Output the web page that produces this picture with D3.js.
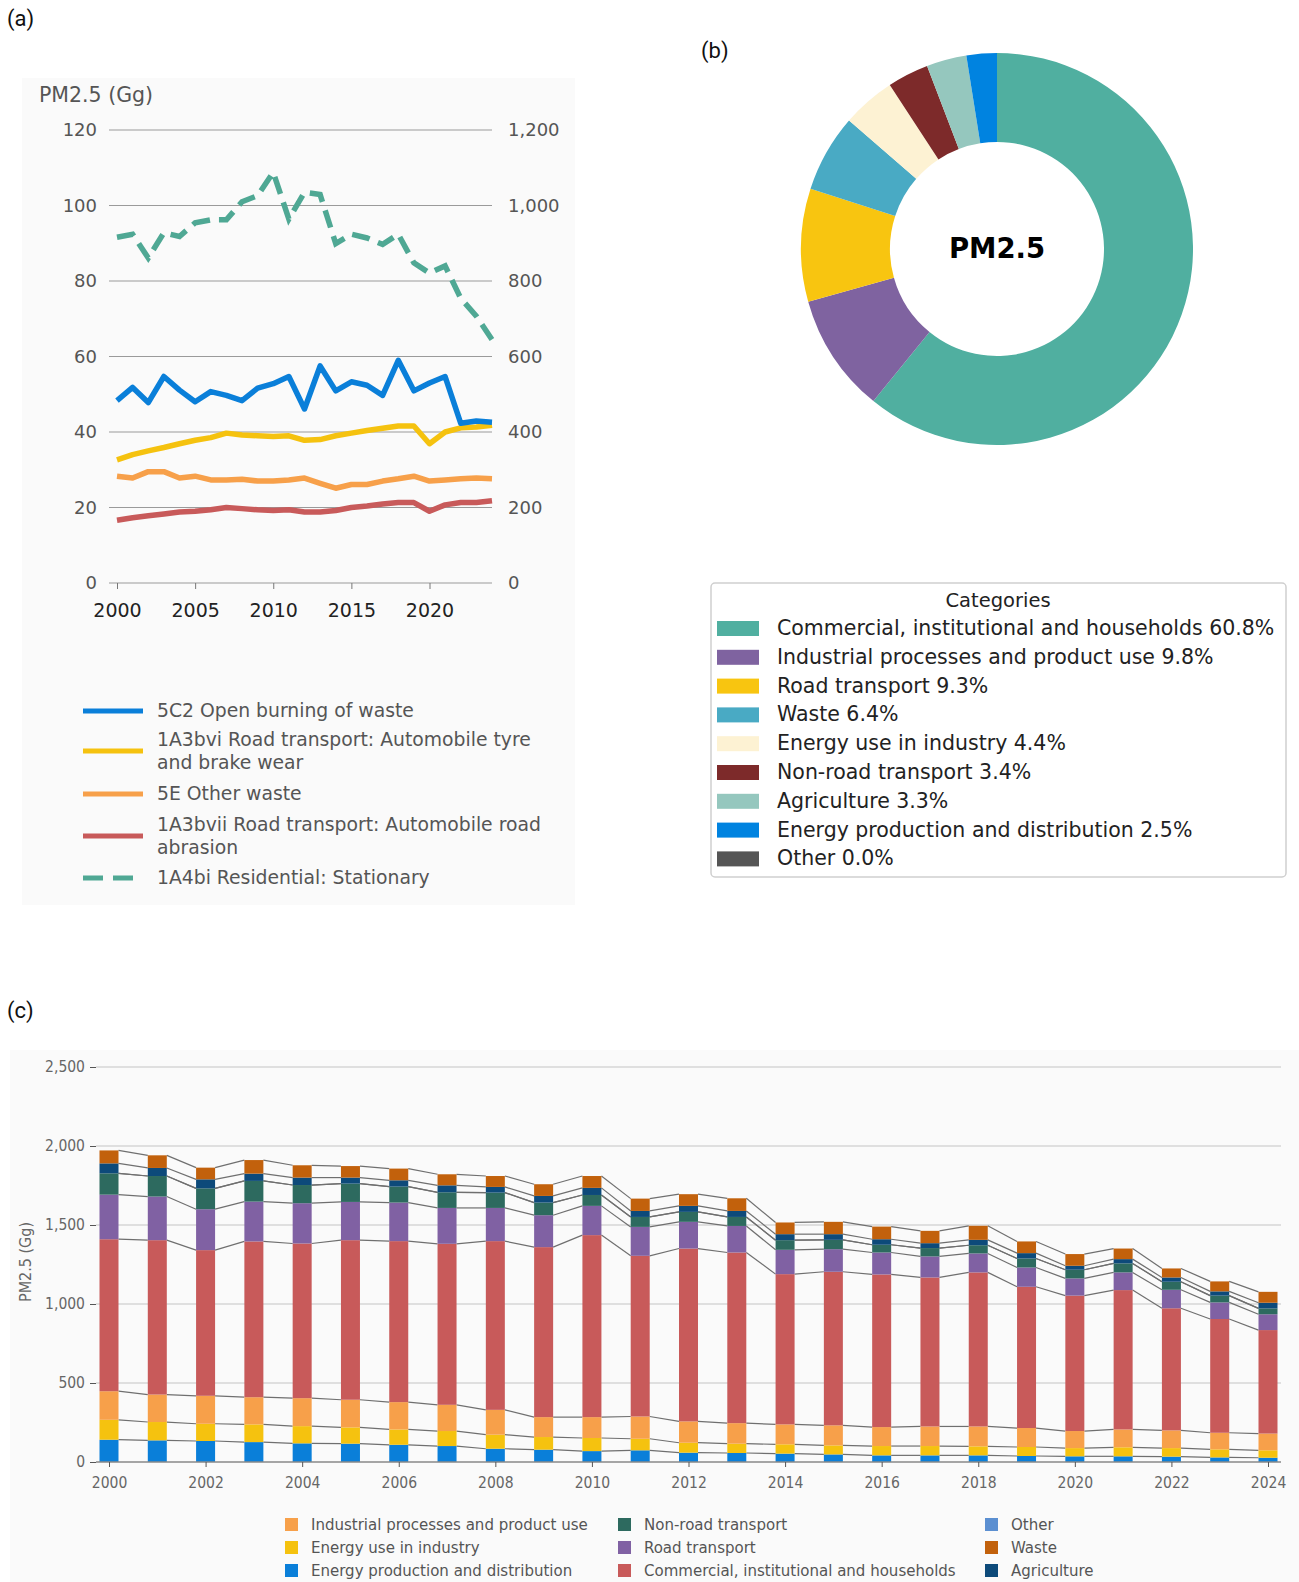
<!DOCTYPE html>
<html>
<head>
<meta charset="utf-8">
<script src="https://cdn.jsdelivr.net/npm/d3@7"></script>
<style>
  body { margin: 0; background: #fff; }
  svg { display: block; }
  .lbl { font-family: Roboto, "Liberation Sans", sans-serif; font-size: 22px; fill: #111; }
  .pa text { font-family: "DejaVu Sans", sans-serif; }
  .pc text { font-family: "DejaVu Sans Condensed", "DejaVu Sans", sans-serif; font-stretch: condensed; }
</style>
</head>
<body>
<svg id="chart" width="1299" height="1582"></svg>
<script>
// ---- data ----
const years = [2000,2001,2002,2003,2004,2005,2006,2007,2008,2009,2010,2011,2012,
  2013,2014,2015,2016,2017,2018,2019,2020,2021,2022,2023,2024];

// panel (a) key categories, Gg (left axis) / residential on right axis
const openBurning = [48.3,51.8,47.8,54.7,51.1,48.0,50.7,49.7,48.3,51.6,52.8,54.7,46.1,57.5,50.9,53.3,52.4,49.7,59.0,50.9,53.0,54.7,42.3,42.9,42.6];
const tyreBrake = [32.6,34.0,35.0,35.9,36.9,37.8,38.5,39.7,39.2,39.0,38.8,39.0,37.8,38.0,39.0,39.7,40.4,41.0,41.6,41.6,36.9,40.0,41.1,41.3,41.8];
const otherWaste = [28.3,27.8,29.5,29.5,27.8,28.3,27.3,27.3,27.5,27.0,27.0,27.3,27.8,26.4,25.1,26.1,26.1,27.0,27.6,28.3,27.0,27.3,27.6,27.8,27.6];
const roadAbrasion = [16.6,17.3,17.8,18.3,18.8,19.0,19.4,20.0,19.7,19.4,19.2,19.4,18.8,18.8,19.2,20.0,20.4,20.9,21.3,21.3,19.0,20.7,21.3,21.3,21.8];
const residential = [916,924,861,928,918,954,962,962,1010,1026,1088,964,1035,1029,899,924,914,897,924,848,821,840,754,707,645];

const lineNames = ["5C2 Open burning of waste",
  "1A3bvi Road transport: Automobile tyre|and brake wear",
  "5E Other waste",
  "1A3bvii Road transport: Automobile road|abrasion",
  "1A4bi Residential: Stationary"];
const lineColors = ["#0a7fd9", "#f5c20f", "#f7a04a", "#c85a5a", "#4fa894"];

// panel (b) shares of 2024
const pieNames = ["Commercial, institutional and households", "Industrial processes and product use",
  "Road transport", "Waste", "Energy use in industry", "Non-road transport", "Agriculture",
  "Energy production and distribution", "Other"];
const pieShares = [60.8, 9.8, 9.3, 6.4, 4.4, 3.4, 3.3, 2.5, 0.0];
const pieColors = ["#50afa0", "#7f63a0", "#f8c510", "#49aac4", "#fdf2d3", "#7d2a2a", "#95c7be", "#0083e0", "#555555"];

// panel (c) stacked by sector, Gg
const energyProd = [141,137,133,126,118,116,109,101,84,78,69,74,59,57,53,48,42,42,42,38,36,36,34,29,27];
const energyInd = [126,116,109,112,109,103,97,95,89,80,83,73,63,59,59,57,59,59,57,57,52,57,54,51,47];
const industrial = [181,174,177,172,177,175,173,166,157,126,132,141,135,130,126,127,120,124,126,120,108,113,112,105,106];
const commercial = [962,977,922,986,979,1010,1019,1019,1068,1076,1152,1017,1094,1080,951,972,966,943,975,894,857,882,773,720,655];
const roadTr = [282,276,259,252,255,242,244,227,210,202,185,183,169,168,154,143,139,133,120,122,109,112,117,105,100];
const nonRoad = [135,130,132,131,115,116,101,99,97,80,69,63,63,57,61,59,49,53,52,57,55,57,51,43,37];
const otherSec = [0,0,0,0,0,0,0,0,0,0,0,0,0,0,0,0,0,0,0,0,0,0,0,0,0];
const agriculture = [63,51,57,46,47,38,40,44,36,42,45,38,38,38,38,36,35,31,34,34,25,27,27,27,36];
const waste = [82,80,74,86,78,73,74,70,69,74,75,78,74,80,74,78,80,78,89,74,74,67,57,63,69];

const stackKeys = ["Energy production and distribution", "Energy use in industry",
  "Industrial processes and product use", "Commercial, institutional and households",
  "Road transport", "Non-road transport", "Other", "Agriculture", "Waste"];
const stackSeries = [energyProd, energyInd, industrial, commercial, roadTr, nonRoad, otherSec, agriculture, waste];
const stackColors = ["#0a7fd9", "#f5c20f", "#f7a04a", "#c85a5a", "#8061a3", "#2d6a5f", "#5b8fd1", "#0d4a7a", "#c2610c"];
const legendOrder = [
  ["Industrial processes and product use", "Energy use in industry", "Energy production and distribution"],
  ["Non-road transport", "Road transport", "Commercial, institutional and households"],
  ["Other", "Waste", "Agriculture"]];

const svg = d3.select("#chart");

// panel letters
svg.append("text").attr("class", "lbl").attr("x", 7).attr("y", 26).text("(a)");
svg.append("text").attr("class", "lbl").attr("x", 701).attr("y", 58).text("(b)");
svg.append("text").attr("class", "lbl").attr("x", 7).attr("y", 1018).text("(c)");

// ---------- panel (a) ----------
const pa = svg.append("g").attr("class", "pa");
pa.append("rect").attr("x", 22).attr("y", 78).attr("width", 553).attr("height", 827).attr("fill", "#fafafa");

const xa = d3.scaleLinear().domain([2000, 2024]).range([117, 492]);
const ya = d3.scaleLinear().domain([0, 120]).range([583, 130]);
const ya2 = d3.scaleLinear().domain([0, 1200]).range([583, 130]);

pa.append("text").attr("x", 39).attr("y", 102).attr("font-size", 20.5).attr("fill", "#555").text("PM2.5 (Gg)");

const leftAx = pa.append("g").attr("transform", "translate(109,0)")
  .call(d3.axisLeft(ya).tickValues([0,20,40,60,80,100,120]).tickSize(0).tickPadding(12));
leftAx.select(".domain").remove();
leftAx.selectAll("text").attr("font-size", 18).attr("fill", "#555");

const rightAx = pa.append("g").attr("transform", "translate(492,0)")
  .call(d3.axisRight(ya2).tickValues([0,200,400,600,800,1000,1200]).tickFormat(d3.format(",")).tickSize(0).tickPadding(16));
rightAx.select(".domain").remove();
rightAx.selectAll("text").attr("font-size", 18).attr("fill", "#555");

pa.append("g").selectAll("line").data([20,40,60,80,100,120]).join("line")
  .attr("x1", 109).attr("x2", 492).attr("y1", d => ya(d)).attr("y2", d => ya(d))
  .attr("stroke", "#9a9a9a").attr("stroke-width", 1);

const botAx = pa.append("g").attr("transform", "translate(0,583)")
  .call(d3.axisBottom(xa).tickValues([2000,2005,2010,2015,2020]).tickFormat(d3.format("d")).tickSize(6).tickPadding(15));
botAx.select(".domain").attr("d", "M109,0H492").attr("stroke", "#9a9a9a");
botAx.selectAll(".tick line").attr("stroke", "#777");
botAx.selectAll("text").attr("font-size", 19).attr("fill", "#222");

const lineA = d3.line().x((d, i) => xa(years[i])).y(d => ya(d));
const lineA2 = d3.line().x((d, i) => xa(years[i])).y(d => ya2(d));
const leftSeries = [openBurning, tyreBrake, otherWaste, roadAbrasion];
pa.append("g").selectAll("path").data(leftSeries.slice().reverse()).join("path")
  .attr("d", lineA).attr("fill", "none")
  .attr("stroke", (d, i) => lineColors[3 - i]).attr("stroke-width", 5.5)
  .attr("stroke-linejoin", "round");
pa.append("path").attr("d", lineA2(residential)).attr("fill", "none")
  .attr("stroke", lineColors[4]).attr("stroke-width", 5.5).attr("stroke-dasharray", "18,9");

// legend (a)
const legA = pa.append("g");
const legAy = [711, 751, 794, 836, 878];
lineNames.forEach((name, i) => {
  const parts = name.split("|");
  legA.append("line").attr("x1", 83).attr("x2", 143).attr("y1", legAy[i]).attr("y2", legAy[i])
    .attr("stroke", lineColors[i]).attr("stroke-width", 5)
    .attr("stroke-dasharray", i === 4 ? "20,10" : null);
  const t = legA.append("text").attr("x", 157).attr("font-size", 18.8).attr("fill", "#555");
  parts.forEach((p, j) => {
    t.append("tspan").attr("x", 157)
      .attr("y", legAy[i] + 6 + (parts.length > 1 ? (j - 0.5) * 23 : 0)).text(p);
  });
});

// ---------- panel (b) ----------
const pb = svg.append("g").attr("class", "pa");
const pie = d3.pie().sort(null).value(d => d);
const arc = d3.arc().innerRadius(107).outerRadius(196);
pb.append("g").attr("transform", "translate(997,249)")
  .selectAll("path").data(pie(pieShares)).join("path")
  .attr("d", arc).attr("fill", (d, i) => pieColors[i]);
pb.append("text").attr("x", 997).attr("y", 258).attr("text-anchor", "middle")
  .attr("font-size", 27.5).attr("font-weight", "bold").attr("fill", "#000").text("PM2.5");

pb.append("rect").attr("x", 711).attr("y", 583).attr("width", 575).attr("height", 294)
  .attr("rx", 4).attr("fill", "#fff").attr("stroke", "#cfcfcf").attr("stroke-width", 1.5);
pb.append("text").attr("x", 998).attr("y", 607).attr("text-anchor", "middle")
  .attr("font-size", 19.5).attr("fill", "#222").text("Categories");
const legB = pb.append("g").selectAll("g").data(pieNames).join("g")
  .attr("transform", (d, i) => `translate(0,${628 + i * 28.8})`);
legB.append("rect").attr("x", 717).attr("y", -7).attr("width", 42).attr("height", 15)
  .attr("fill", (d, i) => pieColors[i]);
legB.append("text").attr("x", 777).attr("y", 7).attr("font-size", 20.5).attr("fill", "#222")
  .text((d, i) => `${d} ${pieShares[i].toFixed(1)}%`);

// ---------- panel (c) ----------
const pc = svg.append("g").attr("class", "pc");
pc.append("rect").attr("x", 10).attr("y", 1050).attr("width", 1289).attr("height", 532).attr("fill", "#fafafa");

const xc = d3.scaleLinear().domain([2000, 2024]).range([109, 1268]);
const yc = d3.scaleLinear().domain([0, 2500]).range([1462, 1067]);
const barW = 19;

pc.append("g").selectAll("line").data([500,1000,1500,2000,2500]).join("line")
  .attr("x1", 96).attr("x2", 1281).attr("y1", d => yc(d)).attr("y2", d => yc(d))
  .attr("stroke", "#d6d6d6").attr("stroke-width", 1.3);

const yAxC = pc.append("g").attr("transform", "translate(96,0)")
  .call(d3.axisLeft(yc).tickValues([0,500,1000,1500,2000,2500]).tickFormat(d3.format(",")).tickSize(6).tickPadding(5));
yAxC.select(".domain").remove();
yAxC.selectAll(".tick line").attr("stroke", "#555");
yAxC.selectAll("text").attr("font-size", 15.5).attr("fill", "#666");

pc.append("text").attr("transform", "translate(31,1262) rotate(-90)").attr("text-anchor", "middle")
  .attr("font-size", 16).attr("fill", "#666").text("PM2.5 (Gg)");

const tableC = years.map((y, i) => {
  const row = { year: y };
  stackKeys.forEach((k, j) => { row[k] = stackSeries[j][i]; });
  return row;
});
const stacked = d3.stack().keys(stackKeys)(tableC);

// connector lines between bars
const conn = pc.append("g");
stacked.forEach(layer => {
  for (let i = 0; i < layer.length - 1; i++) {
    conn.append("line")
      .attr("x1", xc(years[i]) + barW / 2).attr("x2", xc(years[i + 1]) - barW / 2)
      .attr("y1", yc(layer[i][1])).attr("y2", yc(layer[i + 1][1]))
      .attr("stroke", "#6f6f6f").attr("stroke-width", 1.2);
  }
});

pc.append("g").selectAll("g").data(stacked).join("g")
  .attr("fill", (d, i) => stackColors[i])
  .selectAll("rect").data(d => d).join("rect")
  .attr("x", d => xc(d.data.year) - barW / 2)
  .attr("y", d => yc(d[1]))
  .attr("width", barW)
  .attr("height", d => yc(d[0]) - yc(d[1]));

const xAxC = pc.append("g").attr("transform", "translate(0,1462)")
  .call(d3.axisBottom(xc).tickValues(d3.range(2000, 2025, 2)).tickFormat(d3.format("d")).tickSize(5).tickPadding(10));
xAxC.select(".domain").attr("d", "M96,0H1281").attr("stroke", "#888").attr("stroke-width", 1.3);
xAxC.selectAll(".tick line").attr("stroke", "#555");
xAxC.selectAll("text").attr("font-size", 15.5).attr("fill", "#666");

// legend (c)
const colX = [285, 618, 985];
legendOrder.forEach((col, ci) => {
  col.forEach((name, ri) => {
    const k = stackKeys.indexOf(name);
    const g = pc.append("g").attr("transform", `translate(${colX[ci]},${1525 + ri * 23})`);
    g.append("rect").attr("x", 0).attr("y", -7).attr("width", 13).attr("height", 13).attr("fill", stackColors[k]);
    g.append("text").attr("x", 26).attr("y", 5).attr("font-size", 16.7).attr("fill", "#555").text(name);
  });
});
</script>
</body>
</html>
